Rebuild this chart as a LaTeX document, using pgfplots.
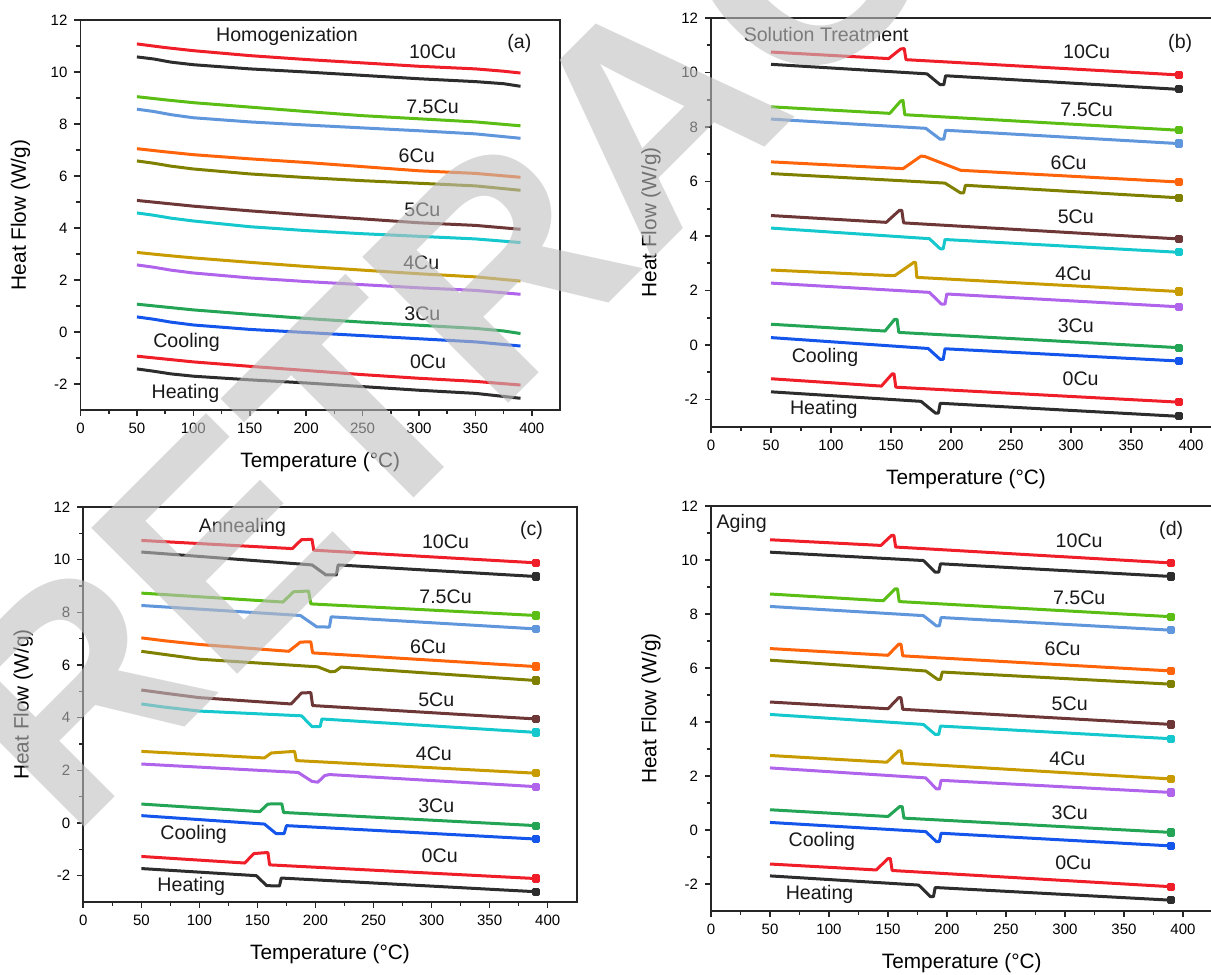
\documentclass[border=0pt]{standalone}
\usepackage{fontspec}
\setmainfont{Liberation Sans}
\usepackage{pgfplots}
\pgfplotsset{compat=1.18}

\definecolor{cR}{RGB}{240,30,40}
\definecolor{cK}{RGB}{45,45,45}
\definecolor{cLG}{RGB}{90,190,20}
\definecolor{cLB}{RGB}{95,150,220}
\definecolor{cOR}{RGB}{255,100,10}
\definecolor{cOL}{RGB}{128,128,0}
\definecolor{cBR}{RGB}{110,55,55}
\definecolor{cCY}{RGB}{20,200,205}
\definecolor{cGD}{RGB}{200,155,0}
\definecolor{cPU}{RGB}{175,100,235}
\definecolor{cGR}{RGB}{35,165,85}
\definecolor{cBL}{RGB}{20,85,235}

\tikzset{ann/.style={font=\fontsize{9.8}{11}\selectfont, text=black!90}}

% one DSC trace with a small square at its last point
\newcommand{\trace}[3]{%
  \addplot[#1] coordinates {#2};
  \addplot[#1, only marks, mark=square*, mark size=1.3pt] coordinates {#3};}

\pgfplotsset{
  dsc/.style={
    scale only axis,
    xmin=0, xmax=425, ymin=-3, ymax=12,
    xtick={0,50,...,400}, ytick={-2,0,...,12},
    minor x tick num=1, minor y tick num=1,
    tick align=outside, xtick pos=bottom, ytick pos=left,
    major tick length=3pt, minor tick length=2pt,
    every tick/.style={black!85, line width=0.8pt},
    axis line style={line width=0.9pt, black!85},
    tick label style={font=\fontsize{7.5}{9}\selectfont},
    /pgf/number format/assume math mode=true,
    xlabel={Temperature (°C)},
    ylabel={Heat Flow (W/g)},
    label style={font=\fontsize{10.4}{12}\selectfont},
    xlabel style={at={(axis description cs:0.5,0)}, anchor=center, yshift=-26pt},
    ylabel style={at={([xshift=-30pt]axis description cs:0,0.5)}, anchor=center},
    every axis plot/.append style={line width=1.5pt, line join=round},
  }
}

\begin{document}
\begin{tikzpicture}
\path[use as bounding box] (0,0) rectangle (605.5pt,487.5pt);

% (a) Homogenization
\begin{axis}[dsc, at={(40.25pt,282.5pt)}, anchor=south west, width=239.75pt, height=195pt]
\addplot[cR] coordinates {(50,11.08)(75,10.94)(100,10.82)(150,10.63)(200,10.48)(250,10.35)(300,10.22)(350,10.12)(375,10.03)(390,9.96)};
\addplot[cK] coordinates {(50,10.58)(65,10.50)(80,10.38)(100,10.28)(150,10.12)(200,10.0)(250,9.87)(300,9.74)(350,9.63)(375,9.55)(390,9.45)};
\addplot[cLG] coordinates {(50,9.05)(75,8.93)(100,8.82)(150,8.65)(200,8.48)(250,8.32)(300,8.2)(350,8.08)(390,7.93)};
\addplot[cLB] coordinates {(50,8.57)(65,8.48)(80,8.36)(100,8.24)(150,8.08)(200,7.96)(250,7.85)(300,7.74)(350,7.62)(390,7.45)};
\addplot[cOR] coordinates {(50,7.05)(75,6.93)(100,6.82)(150,6.66)(200,6.52)(250,6.36)(300,6.2)(350,6.1)(390,5.95)};
\addplot[cOL] coordinates {(50,6.58)(65,6.49)(80,6.38)(100,6.27)(150,6.08)(200,5.94)(250,5.82)(300,5.72)(350,5.62)(390,5.45)};
\addplot[cBR] coordinates {(50,5.06)(75,4.95)(100,4.84)(150,4.66)(200,4.5)(250,4.35)(300,4.2)(350,4.1)(390,3.95)};
\addplot[cCY] coordinates {(50,4.58)(65,4.49)(80,4.38)(100,4.27)(150,4.05)(200,3.9)(250,3.78)(300,3.68)(350,3.58)(390,3.44)};
\addplot[cGD] coordinates {(50,3.06)(75,2.95)(100,2.85)(150,2.68)(200,2.52)(250,2.38)(300,2.24)(350,2.12)(390,1.96)};
\addplot[cPU] coordinates {(50,2.58)(65,2.49)(80,2.38)(100,2.27)(150,2.08)(200,1.94)(250,1.82)(300,1.7)(350,1.6)(390,1.45)};
\addplot[cGR] coordinates {(50,1.07)(75,0.96)(100,0.85)(150,0.68)(200,0.52)(250,0.38)(300,0.26)(350,0.14)(375,0.04)(390,-0.06)};
\addplot[cBL] coordinates {(50,0.58)(65,0.49)(80,0.38)(100,0.27)(150,0.1)(200,-0.02)(250,-0.14)(300,-0.26)(350,-0.38)(390,-0.54)};
\addplot[cR] coordinates {(50,-0.93)(75,-1.04)(100,-1.15)(150,-1.32)(200,-1.48)(250,-1.64)(300,-1.78)(350,-1.9)(390,-2.04)};
\addplot[cK] coordinates {(50,-1.42)(65,-1.51)(80,-1.61)(100,-1.7)(150,-1.84)(200,-1.96)(250,-2.1)(300,-2.24)(350,-2.36)(390,-2.55)};
\node[ann] at (axis cs:183,11.35) {Homogenization};
\node[ann] at (axis cs:389,11.1) {(a)};
\node[ann] at (axis cs:312,10.77) {10Cu};
\node[ann] at (axis cs:312,8.65) {7.5Cu};
\node[ann] at (axis cs:298,6.77) {6Cu};
\node[ann] at (axis cs:303,4.71) {5Cu};
\node[ann] at (axis cs:302,2.65) {4Cu};
\node[ann] at (axis cs:303,0.71) {3Cu};
\node[ann] at (axis cs:94,-0.39) {Cooling};
\node[ann] at (axis cs:308,-1.16) {0Cu};
\node[ann] at (axis cs:93,-2.35) {Heating};
\end{axis}

% (b) Solution Treatment
\begin{axis}[dsc, at={(355.5pt,274.15pt)}, anchor=south west, width=255pt, height=204.35pt]
\trace{cR}{(50,10.75)(148,10.51)(158,10.86)(161,10.88)(162.5,10.47)(390,9.91)}{(390,9.91)}
\trace{cK}{(50,10.30)(180,9.95)(191,9.55)(194,9.55)(195.5,9.88)(390,9.38)}{(390,9.38)}
\trace{cLG}{(50,8.74)(149,8.5)(158,8.95)(160,8.97)(161.5,8.45)(390,7.88)}{(390,7.88)}
\trace{cLB}{(50,8.29)(179,7.95)(191,7.55)(194,7.55)(195.5,7.88)(390,7.39)}{(390,7.39)}
\trace{cOR}{(50,6.72)(160,6.47)(175,6.93)(178,6.92)(208,6.41)(390,5.98)}{(390,5.98)}
\trace{cOL}{(50,6.29)(195,5.94)(208,5.58)(210.5,5.58)(212,5.86)(390,5.40)}{(390,5.40)}
\trace{cBR}{(50,4.75)(146,4.5)(157,4.94)(159,4.94)(160.5,4.48)(390,3.89)}{(390,3.89)}
\trace{cCY}{(50,4.29)(182,3.9)(191,3.53)(193.5,3.53)(195,3.87)(390,3.40)}{(390,3.40)}
\trace{cGD}{(50,2.75)(153,2.54)(169,3.03)(170.5,3.03)(171.5,2.48)(390,1.96)}{(390,1.96)}
\trace{cPU}{(50,2.27)(182,1.93)(192,1.5)(195,1.5)(196.5,1.87)(390,1.40)}{(390,1.40)}
\trace{cGR}{(50,0.76)(145,0.51)(153,0.94)(155,0.94)(156.5,0.46)(390,-0.1)}{(390,-0.1)}
\trace{cBL}{(50,0.27)(181,-0.13)(191,-0.53)(193.5,-0.53)(195,-0.14)(390,-0.59)}{(390,-0.59)}
\trace{cR}{(50,-1.24)(142,-1.51)(151,-1.06)(152.5,-1.06)(154,-1.55)(390,-2.1)}{(390,-2.1)}
\trace{cK}{(50,-1.72)(175,-2.07)(187,-2.5)(189.5,-2.5)(191,-2.14)(390,-2.62)}{(390,-2.62)}
\node[ann] at (axis cs:96,11.39) {Solution Treatment};
\node[ann] at (axis cs:391,11.08) {(b)};
\node[ann] at (axis cs:313,10.77) {10Cu};
\node[ann] at (axis cs:313,8.62) {7.5Cu};
\node[ann] at (axis cs:298,6.68) {6Cu};
\node[ann] at (axis cs:304,4.71) {5Cu};
\node[ann] at (axis cs:302,2.6) {4Cu};
\node[ann] at (axis cs:304,0.7) {3Cu};
\node[ann] at (axis cs:95,-0.44) {Cooling};
\node[ann] at (axis cs:308,-1.24) {0Cu};
\node[ann] at (axis cs:94,-2.37) {Heating};
\end{axis}

% (c) Annealing
\begin{axis}[dsc, at={(41.65pt,36.5pt)}, anchor=south west, width=246.7pt, height=197.5pt]
\trace{cR}{(50,10.73)(180,10.42)(188,10.76)(197,10.77)(198.5,10.36)(390,9.88)}{(390,9.88)}
\trace{cK}{(50,10.29)(197,9.8)(209,9.42)(218,9.42)(219.5,9.8)(390,9.36)}{(390,9.36)}
\trace{cLG}{(50,8.73)(172,8.39)(181,8.78)(194,8.81)(196,8.32)(390,7.88)}{(390,7.88)}
\trace{cLB}{(50,8.26)(187,7.88)(201,7.45)(212,7.44)(213.5,7.83)(390,7.37)}{(390,7.37)}
\trace{cOR}{(50,7.03)(70,6.92)(100,6.78)(177,6.52)(187,6.87)(196,6.88)(197.5,6.46)(390,5.94)}{(390,5.94)}
\trace{cOL}{(50,6.52)(70,6.4)(100,6.22)(202,5.93)(213,5.74)(217,5.76)(222,5.92)(390,5.41)}{(390,5.41)}
\trace{cBR}{(50,5.05)(70,4.93)(100,4.76)(179,4.52)(188,4.94)(196,4.95)(197.5,4.46)(390,3.95)}{(390,3.95)}
\trace{cCY}{(50,4.52)(70,4.4)(100,4.25)(188,4.07)(197,3.66)(204,3.66)(205.5,3.95)(390,3.44)}{(390,3.44)}
\trace{cGD}{(50,2.72)(156,2.47)(162,2.66)(182,2.72)(183.5,2.37)(390,1.89)}{(390,1.89)}
\trace{cPU}{(50,2.24)(185,1.92)(197,1.58)(202,1.55)(208,1.8)(212,1.84)(390,1.38)}{(390,1.38)}
\trace{cGR}{(50,0.72)(152,0.43)(159,0.72)(171,0.73)(172.5,0.4)(390,-0.1)}{(390,-0.1)}
\trace{cBL}{(50,0.28)(156,-0.04)(166,-0.4)(173,-0.4)(175,-0.1)(390,-0.61)}{(390,-0.61)}
\trace{cR}{(50,-1.27)(139,-1.52)(147,-1.16)(159,-1.12)(160.5,-1.59)(390,-2.11)}{(390,-2.11)}
\trace{cK}{(50,-1.73)(149,-2.0)(158,-2.38)(169,-2.39)(170.5,-2.09)(390,-2.61)}{(390,-2.61)}
\node[ann] at (axis cs:137,11.24) {Annealing};
\node[ann] at (axis cs:386,11.11) {(c)};
\node[ann] at (axis cs:312,10.67) {10Cu};
\node[ann] at (axis cs:312,8.58) {7.5Cu};
\node[ann] at (axis cs:297,6.68) {6Cu};
\node[ann] at (axis cs:304,4.67) {5Cu};
\node[ann] at (axis cs:302,2.62) {4Cu};
\node[ann] at (axis cs:304,0.66) {3Cu};
\node[ann] at (axis cs:95,-0.45) {Cooling};
\node[ann] at (axis cs:307,-1.24) {0Cu};
\node[ann] at (axis cs:93,-2.39) {Heating};
\end{axis}

% (d) Aging
\begin{axis}[dsc, at={(355.5pt,32pt)}, anchor=south west, width=250.75pt, height=202.5pt]
\trace{cR}{(50,10.75)(144,10.54)(153,10.91)(155,10.91)(156.5,10.48)(390,9.89)}{(390,9.89)}
\trace{cK}{(50,10.29)(180,9.98)(190,9.55)(193,9.55)(194.5,9.86)(390,9.39)}{(390,9.39)}
\trace{cLG}{(50,8.74)(146,8.49)(156,8.93)(158,8.93)(159.5,8.46)(390,7.9)}{(390,7.9)}
\trace{cLB}{(50,8.28)(180,7.94)(191,7.56)(193.5,7.56)(195,7.87)(390,7.4)}{(390,7.4)}
\trace{cOR}{(50,6.72)(150,6.47)(159,6.88)(161,6.88)(162.5,6.45)(390,5.89)}{(390,5.89)}
\trace{cOL}{(50,6.29)(182,5.89)(192,5.58)(194.5,5.58)(196,5.85)(390,5.4)}{(390,5.4)}
\trace{cBR}{(50,4.74)(150,4.49)(159,4.9)(161,4.9)(162.5,4.47)(390,3.91)}{(390,3.91)}
\trace{cCY}{(50,4.28)(180,3.91)(190,3.54)(193,3.54)(194.5,3.85)(390,3.38)}{(390,3.38)}
\trace{cGD}{(50,2.76)(149,2.51)(159,2.93)(161,2.93)(162.5,2.48)(390,1.89)}{(390,1.89)}
\trace{cPU}{(50,2.3)(182,1.93)(191,1.52)(193.5,1.52)(195,1.84)(390,1.39)}{(390,1.39)}
\trace{cGR}{(50,0.75)(150,0.5)(160,0.87)(162,0.87)(163.5,0.44)(390,-0.09)}{(390,-0.09)}
\trace{cBL}{(50,0.28)(182,-0.06)(191,-0.43)(193.5,-0.43)(195,-0.12)(390,-0.59)}{(390,-0.59)}
\trace{cR}{(50,-1.26)(140,-1.48)(150,-1.06)(152,-1.06)(153.5,-1.5)(390,-2.1)}{(390,-2.1)}
\trace{cK}{(50,-1.7)(176,-2.04)(186,-2.47)(188.5,-2.47)(190,-2.13)(390,-2.6)}{(390,-2.6)}
\node[ann] at (axis cs:26,11.34) {Aging};
\node[ann] at (axis cs:390,11.1) {(d)};
\node[ann] at (axis cs:312,10.72) {10Cu};
\node[ann] at (axis cs:312,8.62) {7.5Cu};
\node[ann] at (axis cs:298,6.7) {6Cu};
\node[ann] at (axis cs:304,4.69) {5Cu};
\node[ann] at (axis cs:302,2.63) {4Cu};
\node[ann] at (axis cs:304,0.65) {3Cu};
\node[ann] at (axis cs:94,-0.43) {Cooling};
\node[ann] at (axis cs:307,-1.21) {0Cu};
\node[ann] at (axis cs:92,-2.37) {Heating};
\end{axis}

% retraction stamp across the figure
\node[rotate=45, anchor=base west, inner sep=0pt,
      font=\fontsize{150}{150}\selectfont\bfseries,
      text=black!25, opacity=0.6] at (35pt,66.5pt) {RETRACTED};
\end{tikzpicture}
\end{document}
